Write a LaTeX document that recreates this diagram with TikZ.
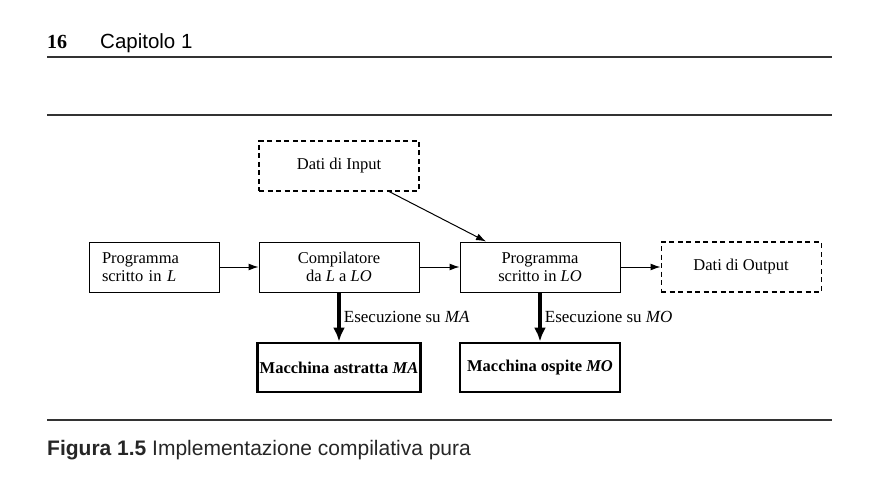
\documentclass[tikz,border=0pt]{standalone}
\usepackage{fontspec}
\setmainfont{Liberation Serif}
\setsansfont{Liberation Sans}
\usetikzlibrary{positioning,arrows.meta}

\begin{document}
\begin{tikzpicture}[
		x=1pt,y=-1pt,
		plain/.style={
			draw=none,
			fill=none,
			inner sep=0pt,
			anchor=base west,
		},
		box/.style={
			draw,
			line width=1pt,
			minimum width=160pt,
			minimum height=50pt,
			inner sep=2pt,
			align=center,
			font=\fontsize{16.5}{18.5}\selectfont
		},
		dbox/.style={
			box,
			line width=1.2pt,
			dash pattern=on 5pt off 3.5pt
		},
		mbox/.style={
			box,
			line width=2.8pt,
			minimum height=49pt,
			font=\fontsize{16.5}{18.5}\selectfont\bfseries
		},
		rule/.style={
			line width=1.4pt,
			black!80
		},
		run/.style={
			-{Latex[length=14pt,width=12pt]},
			line width=3.2pt
		},
		>={Latex[length=10pt,width=7pt]}
		]
		\useasboundingbox (0,0) rectangle (887,479);
		% page head and rules
		\node[plain, font=\fontsize{20}{24}\selectfont\bfseries] (page) at (47,48) {16};
		\node[plain, font=\sffamily\fontsize{20.5}{24}\selectfont] (chapter) at (100,48) {Capitolo 1};
		\foreach \ry in {57,115,420}
			\draw[rule] (47,\ry) -- (832,\ry);
		% boxes
		\node[box] (comp) at (339,267) {Compilatore\\da \textit{L} a \textit{LO}};
		\node[box, minimum width=130pt, text width=104pt, inner xsep=13pt, align=left, left=39pt of comp] (progL) {Programma\\scritto in \textit{L}};
		\node[box, right=40pt of comp] (progLO) {Programma\\scritto in \textit{LO}};
		\node[dbox, right=40pt of progLO] (output) {Dati di Output};
		\node[dbox, above=50pt of comp] (input) {Dati di Input};
		\node[mbox, below=49pt of comp] (ma) {Macchina astratta \textit{MA}};
		\node[mbox, below=49pt of progLO] (mo) {Macchina ospite \textit{MO}};
		% connectors
		\foreach \from/\to in {progL/comp,comp/progLO,progLO/output}
			\draw[->, line width=1pt] (\from) -- (\to);
		\draw[->, line width=1pt] ([xshift=50pt]input.south) -- ([xshift=-54pt]progLO.north);
		\draw[run] (comp) -- node[right, font=\fontsize{17}{19}\selectfont] {Esecuzione su \textit{MA}} (ma);
		\draw[run] (progLO) -- node[right, font=\fontsize{17}{19}\selectfont] {Esecuzione su \textit{MO}} (mo);
		% caption
		\node[plain, font=\sffamily\fontsize{21}{24}\selectfont, text=black!85] (caption) at (47,455) {\textbf{Figura 1.5} Implementazione compilativa pura};
\end{tikzpicture}
\end{document}
